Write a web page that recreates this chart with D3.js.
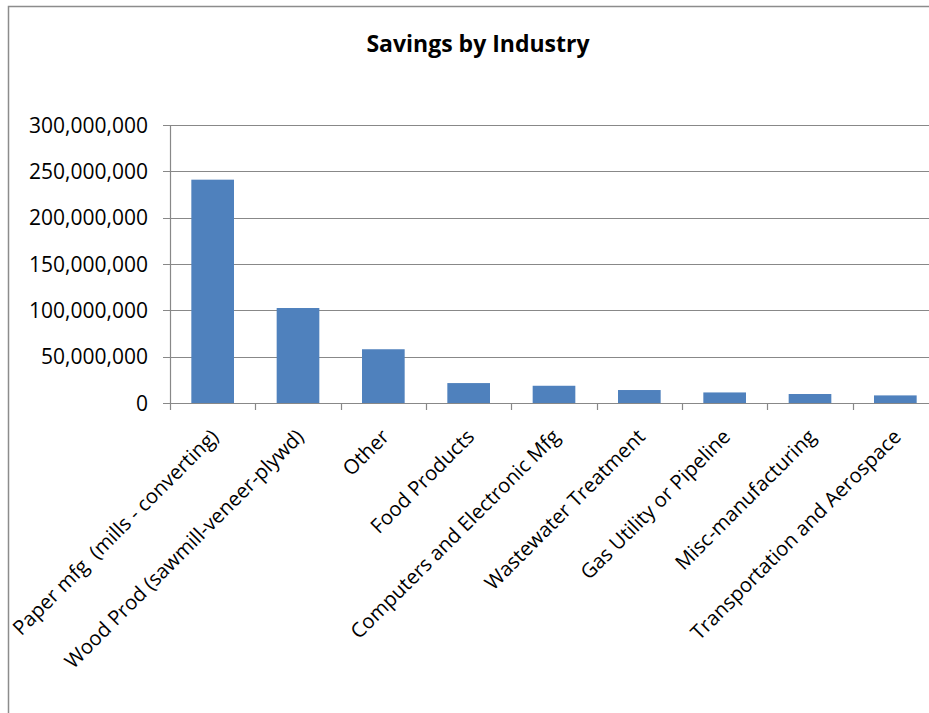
<!DOCTYPE html>
<html>
<head>
<meta charset="utf-8">
<script src="https://cdn.jsdelivr.net/npm/d3@7"></script>
<style>
  html, body { margin: 0; padding: 0; background: #fff; }
  svg { display: block; }
  text { font-family: "Open Sans", Lato, sans-serif; fill: #000; }
</style>
</head>
<body>
<svg id="chart" width="929" height="713"></svg>
<script>
// Savings per industry, in dollars
const industries = [
  "Paper mfg  (mills - converting)",
  "Wood Prod (sawmill-veneer-plywd)",
  "Other",
  "Food Products",
  "Computers and Electronic Mfg",
  "Wastewater Treatment",
  "Gas Utility or Pipeline",
  "Misc-manufacturing",
  "Transportation and Aerospace"
];
const savings = [241000000, 102500000, 58000000, 21500000, 18600000, 14000000, 11400000, 9700000, 8200000];
const yTicks = [0, 50000000, 100000000, 150000000, 200000000, 250000000, 300000000];
const chartTitle = "Savings by Industry";

const plot = { left: 170, right: 938, top: 125, bottom: 403 };
const svg = d3.select("#chart");

// chart frame
svg.append("rect")
  .attr("x", 8.5).attr("y", 6.5)
  .attr("width", 960).attr("height", 760)
  .attr("fill", "#fff").attr("stroke", "#8c8c8c").attr("stroke-width", 1.5);

const x = d3.scaleBand()
  .domain(industries)
  .range([plot.left, plot.right])
  .paddingInner(0.5)
  .paddingOuter(0.25);

const y = d3.scaleLinear()
  .domain([0, 300000000])
  .range([plot.bottom, plot.top]);

const fmt = d3.format(",");

// horizontal gridlines
svg.append("g")
  .selectAll("line")
  .data(yTicks)
  .join("line")
  .attr("x1", plot.left - 7).attr("x2", plot.right)
  .attr("y1", d => Math.round(y(d)) + 0.5).attr("y2", d => Math.round(y(d)) + 0.5)
  .attr("stroke", "#888").attr("stroke-width", 1.2);

// y axis line
svg.append("line")
  .attr("x1", plot.left + 0.5).attr("x2", plot.left + 0.5)
  .attr("y1", plot.top).attr("y2", plot.bottom + 7)
  .attr("stroke", "#888").attr("stroke-width", 1.2);

// y tick labels
svg.append("g")
  .selectAll("text")
  .data(yTicks)
  .join("text")
  .attr("x", 148)
  .attr("y", d => y(d))
  .attr("dy", "0.36em")
  .attr("text-anchor", "end")
  .attr("font-size", 21)
  .text(d => fmt(d));

// category boundary ticks under the baseline
const step = x.step();
const bounds = industries.map(d => x(d) - step * x.paddingOuter() + step);
svg.append("g")
  .selectAll("line")
  .data(bounds)
  .join("line")
  .attr("x1", d => Math.round(d) + 0.5).attr("x2", d => Math.round(d) + 0.5)
  .attr("y1", plot.bottom).attr("y2", plot.bottom + 7)
  .attr("stroke", "#888").attr("stroke-width", 1.2);

// bars
svg.append("g")
  .selectAll("rect")
  .data(savings)
  .join("rect")
  .attr("x", (d, i) => x(industries[i]))
  .attr("width", x.bandwidth())
  .attr("y", d => y(d))
  .attr("height", d => y(0) - y(d))
  .attr("fill", "#4f81bd");

// baseline
svg.append("line")
  .attr("x1", plot.left - 7).attr("x2", plot.right)
  .attr("y1", plot.bottom + 0.5).attr("y2", plot.bottom + 0.5)
  .attr("stroke", "#888").attr("stroke-width", 1.2);

// rotated category labels
svg.append("g")
  .selectAll("text")
  .data(industries)
  .join("text")
  .attr("font-size", 20.3)
  .attr("text-anchor", "end")
  .attr("transform", d => `translate(${x(d) + x.bandwidth() / 2 + 7},${plot.bottom + 35}) rotate(-45)`)
  .style("white-space", "pre")
  .text(d => d);

// title
svg.append("text")
  .attr("x", 478)
  .attr("y", 52)
  .attr("text-anchor", "middle")
  .attr("font-size", 23)
  .attr("font-weight", "bold")
  .text(chartTitle);
</script>
</body>
</html>
